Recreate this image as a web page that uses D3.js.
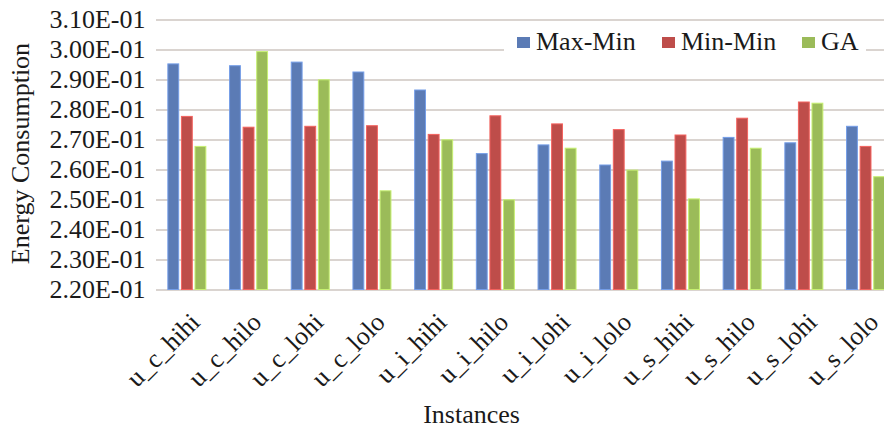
<!DOCTYPE html>
<html>
<head>
<meta charset="utf-8">
<script src="https://cdn.jsdelivr.net/npm/d3@7/dist/d3.min.js"></script>
<style>
  html, body { margin: 0; padding: 0; background: #fff; }
  svg { display: block; }
  svg text { font-family: "Liberation Serif", Tinos, "Times New Roman", serif; fill: #1a1a1a; }
</style>
</head>
<body>
<svg id="chart" width="884" height="430"></svg>
<script>
// Energy consumption per instance for three scheduling heuristics
const categories = ["u_c_hihi", "u_c_hilo", "u_c_lohi", "u_c_lolo",
                    "u_i_hihi", "u_i_hilo", "u_i_lohi", "u_i_lolo",
                    "u_s_hihi", "u_s_hilo", "u_s_lohi", "u_s_lolo"];
const seriesNames = ["Max-Min", "Min-Min", "GA"];
const maxMin = [0.2952, 0.2946, 0.2958, 0.2925, 0.2865, 0.2653, 0.2682, 0.2615, 0.2628, 0.2707, 0.2689, 0.2744];
const minMin = [0.2777, 0.2741, 0.2744, 0.2746, 0.2717, 0.2779, 0.2752, 0.2733, 0.2715, 0.2771, 0.2825, 0.2677];
const ga     = [0.2677, 0.2993, 0.2899, 0.2529, 0.2699, 0.2499, 0.2671, 0.2598, 0.2502, 0.2671, 0.2821, 0.2576];
const yTicks = [0.22, 0.23, 0.24, 0.25, 0.26, 0.27, 0.28, 0.29, 0.30, 0.31];
const colors = ["#5B7BB5", "#BE4D4A", "#9BBB59"];

const seriesValues = [maxMin, minMin, ga];
const FONT = "'Liberation Serif', Tinos, 'Times New Roman', serif";

const svg = d3.select("#chart");

const y = d3.scaleLinear().domain([0.22, 0.31]).range([289.5, 19.5]);
const x0 = d3.scaleBand().domain(categories).range([156, 896.4])
  .paddingInner(0.384).paddingOuter(0.192);
const x1 = d3.scaleBand().domain(seriesNames).range([0, x0.bandwidth()])
  .paddingInner(0.2).paddingOuter(0);

// horizontal gridlines and value labels
const yAxis = d3.axisLeft(y).tickValues(yTicks)
  .tickSize(-(896.4 - 156))
  .tickPadding(10)
  .tickFormat(d => d3.format(".2e")(d).replace("e-1", "E-01"));

const gAxis = svg.append("g").attr("transform", "translate(156,0)").call(yAxis);
gAxis.attr("font-family", FONT);
gAxis.select(".domain").remove();
gAxis.selectAll(".tick line").attr("stroke", "#DAD4D0").attr("stroke-width", 2);
gAxis.selectAll(".tick text")
  .attr("x", -10.5)
  .attr("font-size", 26)
  .attr("fill", "#1a1a1a");

// bars
const groups = svg.append("g").selectAll("g")
  .data(categories)
  .join("g")
  .attr("transform", d => `translate(${x0(d)},0)`);

groups.selectAll("rect")
  .data((c, i) => seriesNames.map((s, j) => ({ s, j, v: seriesValues[j][i] })))
  .join("rect")
  .attr("x", d => x1(d.s))
  .attr("width", x1.bandwidth())
  .attr("y", d => y(d.v))
  .attr("height", d => y(0.22) - y(d.v))
  .attr("fill", d => colors[d.j])
  .attr("stroke", d => d3.color(colors[d.j]).brighter(0.7))
  .attr("stroke-width", 1);

// category labels, rotated 45 degrees
const labelG = svg.append("g").selectAll("g")
  .data(categories)
  .join("g")
  .attr("transform", d => `translate(${x0(d) + x0.bandwidth() / 2},289.5)`);
labelG.append("g")
  .attr("transform", "rotate(-45)")
  .append("text")
  .attr("text-anchor", "end")
  .attr("x", -14)
  .attr("y", 34.5)
  .attr("font-family", FONT)
  .attr("font-size", 26)
  .text(d => d);

// axis titles
svg.append("text")
  .attr("x", 471.5).attr("y", 423)
  .attr("text-anchor", "middle")
  .attr("font-family", FONT)
  .attr("font-size", 26)
  .text("Instances");

svg.append("text")
  .attr("transform", "translate(28.5,153.5) rotate(-90)")
  .attr("text-anchor", "middle")
  .attr("font-family", FONT)
  .attr("font-size", 26)
  .text("Energy Consumption");

// legend
const legend = svg.append("g");
legend.append("rect")
  .attr("x", 504).attr("y", 30).attr("width", 362).attr("height", 26)
  .attr("fill", "#fff");
const legendX = [517, 662, 802];
const items = legend.selectAll("g.item")
  .data(seriesNames)
  .join("g")
  .attr("class", "item")
  .attr("transform", (d, i) => `translate(${legendX[i]},0)`);
items.append("rect")
  .attr("x", 0).attr("y", 37).attr("width", 13).attr("height", 11)
  .attr("fill", (d, i) => colors[i]);
items.append("text")
  .attr("x", 19).attr("y", 50)
  .attr("font-family", FONT)
  .attr("font-size", 26)
  .text(d => d);
</script>
</body>
</html>
